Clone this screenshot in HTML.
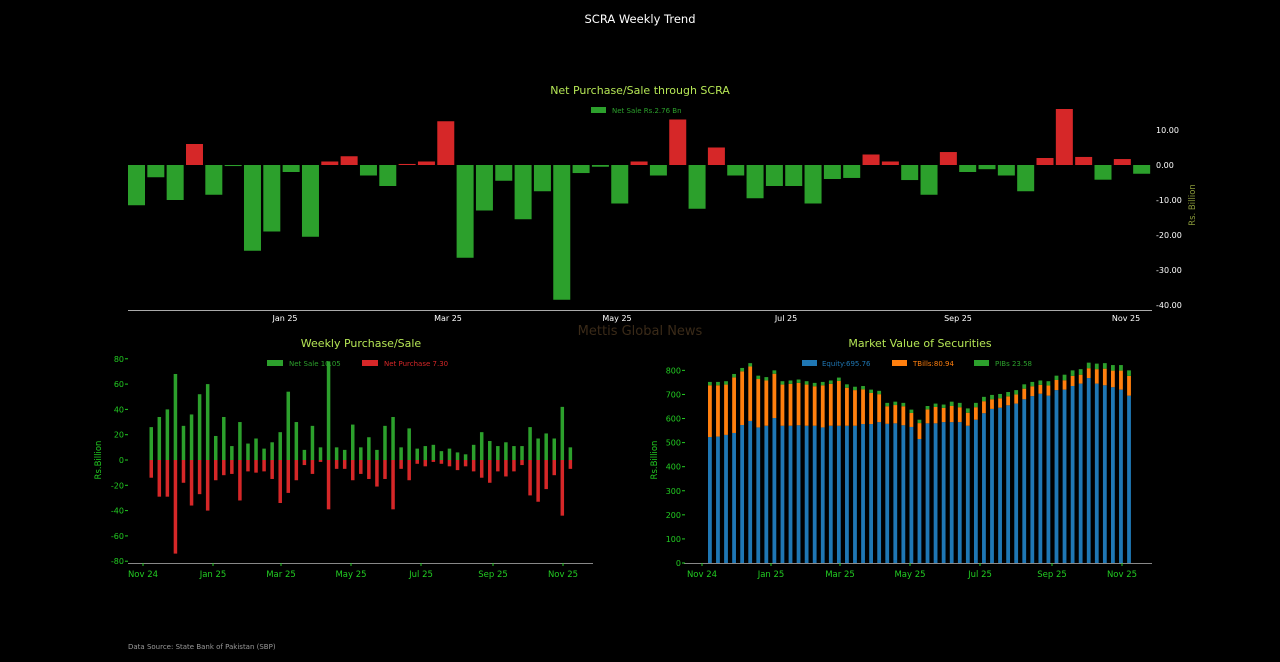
<!DOCTYPE html>
<html><head><meta charset="utf-8"><style>
html,body{margin:0;padding:0;background:#000;}
svg{display:block;font-family:"DejaVu Sans","Liberation Sans",sans-serif;}
</style></head><body>
<svg id="s" width="1280" height="662" xmlns="http://www.w3.org/2000/svg">
<rect width="1280" height="662" fill="#000"/>
<text x="640" y="23" fill="#fff" font-size="11.5" text-anchor="middle">SCRA Weekly Trend</text>
<text x="640" y="94" fill="#b5e655" font-size="11" text-anchor="middle">Net Purchase/Sale through SCRA</text>
<rect x="591" y="107" width="15" height="6" fill="#2ca02c"/>
<text x="612" y="113" fill="#2ca02c" font-size="7">Net Sale Rs.2.76 Bn</text>
<text x="640" y="335" fill="#3a2a18" font-size="13" text-anchor="middle">Mettis Global News</text>
<text x="361" y="347" fill="#b5e655" font-size="11" text-anchor="middle">Weekly Purchase/Sale</text>
<rect x="267" y="360" width="16" height="6" fill="#2ca02c"/>
<text x="289" y="366" fill="#2ca02c" font-size="7">Net Sale 10.05</text>
<rect x="362" y="360" width="16" height="6" fill="#d62728"/>
<text x="384" y="366" fill="#d62728" font-size="7">Net Purchase 7.30</text>
<text x="920" y="347" fill="#b5e655" font-size="11" text-anchor="middle">Market Value of Securities</text>
<rect x="802" y="360" width="15" height="6" fill="#1f77b4"/>
<text x="822" y="366" fill="#1f77b4" font-size="7">Equity:695.76</text>
<rect x="892" y="360" width="15" height="6" fill="#ff7f0e"/>
<text x="913" y="366" fill="#ff7f0e" font-size="7">TBills:80.94</text>
<rect x="974" y="360" width="15" height="6" fill="#2ca02c"/>
<text x="995" y="366" fill="#2ca02c" font-size="7">PIBs 23.58</text>
<text x="128" y="649" fill="#999" font-size="7">Data Source: State Bank of Pakistan (SBP)</text>
<g id="g"></g>
</svg>
<script>
var g=document.getElementById('g'),h='';
function r(x,y,w,hh,c){if(hh<0){y+=hh;hh=-hh;}h+='<rect x="'+x.toFixed(2)+'" y="'+y.toFixed(2)+'" width="'+w+'" height="'+Math.max(hh,0.5).toFixed(2)+'" fill="'+c+'"/>';}
function t(x,y,s,c,fs,a,rot){h+='<text x="'+x+'" y="'+y+'" fill="'+c+'" font-size="'+fs+'" text-anchor="'+(a||'start')+'"'+(rot?' transform="rotate(-90 '+x+' '+y+')"':'')+'>'+s+'</text>';}
function l(x1,y1,x2,y2,c){h+='<line x1="'+x1+'" y1="'+y1+'" x2="'+x2+'" y2="'+y2+'" stroke="'+c+'" stroke-width="1"/>';}
var topv=[-11.5,-3.5,-10,6,-8.5,-0.3,-24.5,-19,-2,-20.5,1,2.5,-3,-6,0.3,1,12.5,-26.5,-13,-4.5,-15.5,-7.5,-38.5,-2.3,-0.5,-11,1,-3,13,-12.5,5,-3,-9.5,-6,-6,-11,-4,-3.7,3,1,-4.3,-8.5,3.7,-2,-1.2,-3,-7.5,2,16,2.3,-4.2,1.7,-2.5];
for(var i=0;i<topv.length;i++){var v=topv[i];r(128+i*19.33,165,17,-v*3.5,v<0?'#2ca02c':'#d62728');}
l(128,310.5,1152,310.5,'#aaa');
[['Jan 25',285],['Mar 25',448],['May 25',617],['Jul 25',786],['Sep 25',958],['Nov 25',1126]].forEach(function(a){t(a[1],321,a[0],'#fff',8,'middle');});
[10,0,-10,-20,-30,-40].forEach(function(v){t(1156,165-v*3.5+3,v.toFixed(2),'#fff',8);});
t(1195,205,'Rs. Billion','#8a9a3a',8.5,'middle',1);
var gp=[26,34,40,68,27,36,52,60,19,34,11,30,13,17,9,14,22,54,30,8,27,10,78,10,8,28,10,18,8,27,34,10,25,9,11,12,7,9,6,4.5,12,22,15,11,14,11,11,26,17,21,17,42,10];
var rn=[-14,-29,-29,-74,-18,-36,-27,-40,-16,-12,-11,-32,-9,-10,-9,-15,-34,-26,-16,-4,-11,-1.5,-39,-7,-7,-16,-11,-15,-21,-15,-39,-7,-16,-3,-5,-1.5,-3,-5,-8,-5,-9,-14,-18,-9,-13,-9,-4,-28,-33,-23,-12,-44,-7];
var k=1.265;
for(i=0;i<53;i++){var x=149.5+i*8.06;r(x,460,3.5,-gp[i]*k,'#2ca02c');r(x,460,3.5,-rn[i]*k,'#d62728');}
l(128,563.5,593,563.5,'#888');
[80,60,40,20,0,-20,-40,-60,-80].forEach(function(v){var y=460-v*k;t(124,y+3,v,'#22cc22',8,'end');l(125,y,128,y,'#22cc22');});
[['Nov 24',143],['Jan 25',213],['Mar 25',281],['May 25',351],['Jul 25',421],['Sep 25',493],['Nov 25',563]].forEach(function(a){t(a[1],577,a[0],'#22cc22',8.5,'middle');l(a[1],563,a[1],566,'#22cc22');});
t(101,460,'Rs.Billion','#22cc22',8.5,'middle',1);
var eq=[523,525,532,540,573,590,563,570,602,570,570,572,570,570,563,570,570,570,570,577,577,585,578,580,572,565,515,580,580,585,585,585,570,595,622,640,645,655,662,680,693,703,695,718,720,735,745,768,745,738,730,720,695];
var tot=[752,752,755,785,810,830,778,772,800,755,758,762,755,748,752,758,770,742,732,735,720,715,665,670,665,637,595,652,662,658,670,665,642,665,690,698,702,710,718,742,752,758,755,778,782,800,805,832,828,830,822,822,800];
var kk=0.2408;
for(i=0;i<53;i++){var x=708+i*8.06,pib=i<30?14:(i<44?18:23);
r(x,563,3.8,-eq[i]*kk,'#1f77b4');r(x,563-eq[i]*kk,3.8,-(tot[i]-pib-eq[i])*kk,'#ff7f0e');r(x,563-(tot[i]-pib)*kk,3.8,-pib*kk,'#2ca02c');}
l(684,563.5,1152,563.5,'#888');
for(var v=0;v<=800;v+=100){var y=563-v*kk;t(681,y+3,v,'#22cc22',8,'end');l(682,y,685,y,'#22cc22');}
[['Nov 24',702],['Jan 25',771],['Mar 25',840],['May 25',910],['Jul 25',980],['Sep 25',1052],['Nov 25',1122]].forEach(function(a){t(a[1],577,a[0],'#22cc22',8.5,'middle');l(a[1],563,a[1],566,'#22cc22');});
t(657,460,'Rs.Billion','#22cc22',8.5,'middle',1);
g.innerHTML=h;
</script>
</body></html>
